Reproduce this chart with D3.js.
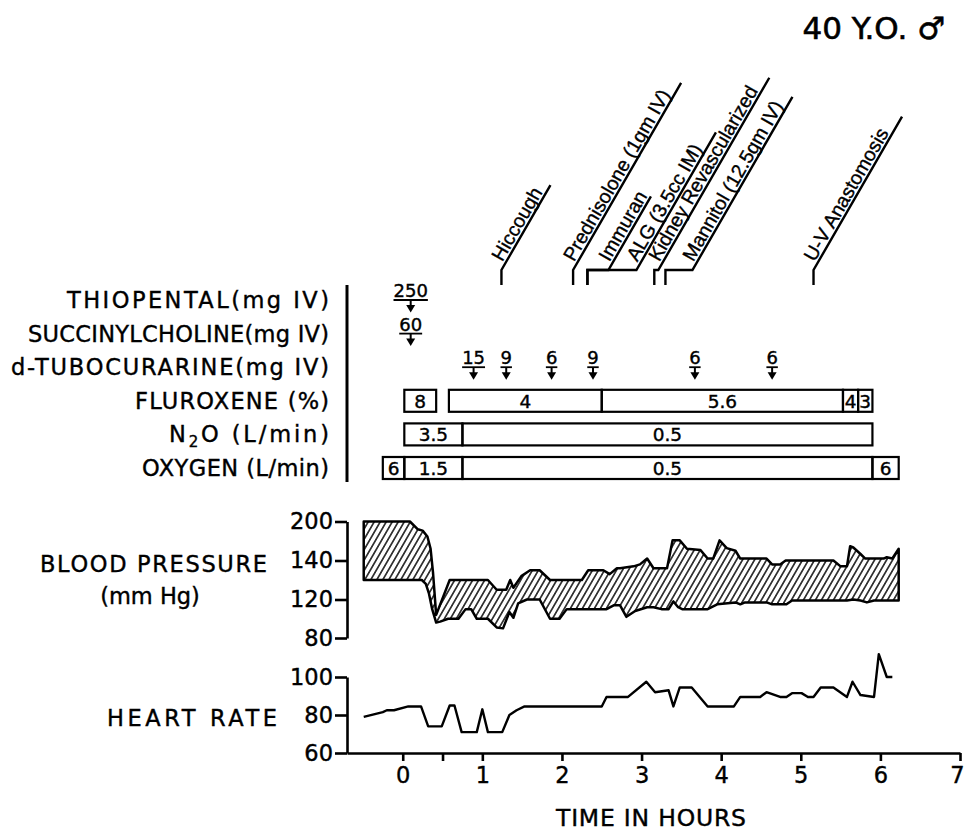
<!DOCTYPE html>
<html>
<head>
<meta charset="utf-8">
<script src="https://cdn.jsdelivr.net/npm/d3@7"></script>
<style>
  body { margin: 0; background: #fff; }
  svg text { font-family: "DejaVu Sans", sans-serif; fill: #000; stroke: #000; stroke-width: 0.4px; }
  .ann text { font-family: "Liberation Sans", Arial, sans-serif; stroke-width: 0.35px; }
</style>
</head>
<body>
<div id="chart"></div>
<script>
// ---------- data ----------
let hourTicks = [0, 0.5, 1, 2, 3, 4, 5, 6, 7];
let bpTicks = [200, 140, 120, 80];
let hrTicks = [100, 80, 60];

let rowNames = ["thiopental", "succinylcholine", "tubocurarine", "fluroxene", "n2o", "oxygen"];
let rowLabels = ["THIOPENTAL(mg IV)", "SUCCINYLCHOLINE(mg IV)", "d-TUBOCURARINE(mg IV)",
                 "FLUROXENE (%)", "N2O (L/min)", "OXYGEN (L/min)"];

// timed events (hours)
let events = [
  {name: "Hiccough", t: 1.24},
  {name: "Prednisolone (1gm IV)", t: 2.14},
  {name: "Immuran", t: 2.32},
  {name: "ALG (3.5cc IM)", t: 2.32},
  {name: "Kidney Revascularized", t: 3.16},
  {name: "Mannitol (12.5gm IV)", t: 3.30},
  {name: "U-V Anastomosis", t: 5.16}
];

// bolus doses
let thiopental = [{t: 0.1, dose: "250"}];
let succinylcholine = [{t: 0.1, dose: "60"}];
let tubocurarine = [{t: 0.89, dose: "15"}, {t: 1.30, dose: "9"}, {t: 1.87, dose: "6"},
                    {t: 2.39, dose: "9"}, {t: 3.67, dose: "6"}, {t: 4.64, dose: "6"}];

// continuous settings
let fluroxene = [{start: 0.02, end: 0.42, v: "8"}, {start: 0.58, end: 2.50, v: "4"},
                 {start: 2.50, end: 5.53, v: "5.6"}, {start: 5.53, end: 5.72, v: "4"},
                 {start: 5.72, end: 5.90, v: "3"}];
let n2o = [{start: 0.02, end: 0.75, v: "3.5"}, {start: 0.75, end: 5.90, v: "0.5"}];
let oxygen = [{start: -0.25, end: 0.02, v: "6"}, {start: 0.02, end: 0.75, v: "1.5"},
              {start: 0.75, end: 5.90, v: "0.5"}, {start: 5.90, end: 6.23, v: "6"}];

// blood pressure [hours, mm Hg]
let bpSystolic = [[-0.49,200],[0.09,200],[0.19,188],[0.25,186],[0.31,177],[0.35,158],[0.38,134],
  [0.42,104],[0.59,130],[1.07,130],[1.18,125],[1.30,125],[1.35,130],[1.39,126],[1.49,132],
  [1.60,135],[1.72,135],[1.85,130],[2.25,130],[2.33,135],[2.52,135],[2.60,133],[2.69,136],
  [2.73,136],[2.90,137],[2.98,138],[3.07,143],[3.15,136],[3.32,136],[3.39,171],[3.48,171],
  [3.57,158],[3.74,156],[3.83,143],[3.90,143],[3.98,171],[4.07,159],[4.18,155],[4.24,143],
  [4.57,143],[4.64,138],[4.74,138],[4.81,140],[5.41,140],[5.50,137],[5.58,137],[5.62,162],
  [5.66,160],[5.75,150],[5.81,143],[6.04,143],[6.08,145],[6.15,143],[6.23,158]];
let bpDiastolic = [[-0.49,130],[0.24,130],[0.29,128],[0.33,123],[0.37,110],[0.42,96],[0.47,97],
  [0.57,100],[0.70,100],[0.79,110],[0.86,110],[0.93,100],[1.07,100],[1.18,91],[1.26,90],
  [1.34,107],[1.39,101],[1.45,116],[1.56,120],[1.72,120],[1.85,100],[1.97,100],[2.06,110],
  [2.56,110],[2.65,114],[2.73,114],[2.81,102],[2.92,108],[3.07,112],[3.15,112],[3.25,110],
  [3.34,110],[3.40,118],[3.46,112],[3.51,110],[3.83,110],[3.95,115],[4.18,117],[4.24,115],
  [4.30,117],[4.57,117],[4.64,115],[4.82,115],[4.89,119],[5.58,119],[5.66,120],[5.75,119],
  [5.83,117],[5.92,119],[6.23,119]];

// heart rate [hours, beats/min]
let heartRate = [[-0.49,79],[-0.25,81.5],[-0.2,82.5],[-0.11,82.5],[0.07,84.5],[0.23,84.5],
  [0.32,74],[0.49,74],[0.59,85],[0.65,85],[0.74,71],[0.93,71],[1.0,83],[1.07,71],[1.25,71],
  [1.34,80],[1.43,82.5],[1.53,84.5],[2.5,84.5],[2.56,89.5],[2.83,89.5],[3.06,97.5],[3.17,92],
  [3.34,93],[3.40,84.5],[3.48,94.5],[3.63,94.5],[3.83,84.5],[4.16,84.5],[4.24,89.5],[4.49,89.5],
  [4.57,92],[4.74,89.5],[4.82,89.5],[4.89,91.5],[5.01,91.5],[5.09,89.5],[5.16,89.5],[5.25,94.5],
  [5.41,94.5],[5.58,89.5],[5.65,97.5],[5.75,90.5],[5.92,89.5],[5.98,112],[6.08,100],[6.15,100]];

// ---------- layout ----------
const W = 965, H = 833;
const svg = d3.select("#chart").append("svg").attr("width", W).attr("height", H);

const x = d3.scaleLinear().domain([-0.7, 7]).range([347, 960]);
const yBP = d3.scaleLinear().domain([80, 120, 140, 200]).range([638, 599.5, 560.5, 521.5]);
const yHR = d3.scaleLinear().domain([60, 100]).range([753, 677]);
const yRow = d3.scalePoint().domain(rowNames).range([300, 468]);

// hatch for the BP band
svg.append("defs").append("pattern")
    .attr("id", "hatch").attr("patternUnits", "userSpaceOnUse")
    .attr("width", 5.2).attr("height", 10).attr("patternTransform", "rotate(30)")
  .append("line").attr("x1", 2.6).attr("x2", 2.6).attr("y1", 0).attr("y2", 10)
    .attr("stroke", "#000").attr("stroke-width", 1.4);

// title
svg.append("text").attr("x", 945).attr("y", 39).attr("text-anchor", "end")
  .style("font-size", "31px").style("stroke-width", "0.6px").text("40 Y.O. \u2642");

// ---- event annotations ----
// jog: horizontal step before the slanted leader, len: length of slanted leader
const annLayout = [{jog: 0, len: 98}, {jog: 0, len: 216}, {jog: 21, len: 85}, {jog: 49, len: 159},
                   {jog: 4, len: 222}, {jog: 27, len: 200}, {jog: 0, len: 177}];
const ang = 60 * Math.PI / 180;
const ann = svg.append("g").attr("class", "ann");
events.forEach((e, i) => {
  const L = annLayout[i];
  const x0 = x(e.t), yb = 285, yt = 270;
  const x1 = x0 + L.jog;
  const x2 = x1 + L.len * Math.cos(ang), y2 = yt - L.len * Math.sin(ang);
  ann.append("path")
    .attr("d", `M${x0},${yb}V${yt}H${x1}L${x2},${y2}`)
    .attr("fill", "none").attr("stroke", "#000").attr("stroke-width", 2.4);
  ann.append("text")
    .attr("transform", `translate(${x1},${yt}) rotate(-60)`)
    .attr("x", 7).attr("y", -3)
    .style("font-size", "19.5px")
    .text(e.name);
});

// ---- drug rows ----
svg.append("line").attr("x1", 347).attr("x2", 347).attr("y1", 285).attr("y2", 482)
  .attr("stroke", "#000").attr("stroke-width", 3);

const labWidths = [262, 301, 318, 194, 160, 187];
const labG = svg.append("g").style("font-size", "22.5px");
rowNames.forEach((r, i) => {
  const t = labG.append("text").attr("x", 329).attr("y", yRow(r) + 8).attr("text-anchor", "end")
    .attr("textLength", labWidths[i]).attr("lengthAdjust", "spacing");
  if (r === "n2o") {
    t.append("tspan").text("N");
    t.append("tspan").attr("dy", 5).style("font-size", "15px").text("2");
    t.append("tspan").attr("dy", -5).text("O (L/min)");
  } else {
    t.text(rowLabels[i]);
  }
});

function bolus(row, arr) {
  const y0 = yRow(row);
  const g = svg.append("g").selectAll("g").data(arr).join("g")
    .attr("transform", d => `translate(${x(d.t)},${y0})`);
  g.append("text").attr("text-anchor", "middle").attr("y", -3)
    .style("font-size", "18px").text(d => d.dose);
  g.each(function () {
    const w = d3.select(this).select("text").node().getComputedTextLength();
    d3.select(this).append("line").attr("x1", -w / 2).attr("x2", w / 2).attr("y1", 0).attr("y2", 0)
      .attr("stroke", "#000").attr("stroke-width", 1.8);
  });
  g.append("line").attr("x1", 0).attr("x2", 0).attr("y1", 0).attr("y2", 7)
    .attr("stroke", "#000").attr("stroke-width", 2);
  g.append("path").attr("d", "M-4.5,5L4.5,5L0,12.5Z").attr("fill", "#000");
}
bolus("thiopental", thiopental);
bolus("succinylcholine", succinylcholine);
bolus("tubocurarine", tubocurarine);

function boxes(row, arr) {
  const y0 = yRow(row);
  const g = svg.append("g").selectAll("g").data(arr).join("g");
  g.append("rect")
    .attr("x", d => x(d.start)).attr("y", y0 - 11)
    .attr("width", d => x(d.end) - x(d.start)).attr("height", 22)
    .attr("fill", "none").attr("stroke", "#000").attr("stroke-width", 2.2);
  g.append("text")
    .attr("x", d => (x(d.start) + x(d.end)) / 2).attr("y", y0 + 7)
    .attr("text-anchor", "middle").style("font-size", "18.5px").text(d => d.v);
}
boxes("fluroxene", fluroxene);
boxes("n2o", n2o);
boxes("oxygen", oxygen);

// ---- side labels ----
const bigLab = svg.append("g").style("font-size", "22.5px");
bigLab.append("text").attr("x", 267).attr("y", 572).attr("text-anchor", "end")
  .attr("textLength", 227).attr("lengthAdjust", "spacing").text("BLOOD PRESSURE");
bigLab.append("text").attr("x", 150).attr("y", 604).attr("text-anchor", "middle").text("(mm Hg)");
bigLab.append("text").attr("x", 277).attr("y", 726).attr("text-anchor", "end")
  .attr("textLength", 170).attr("lengthAdjust", "spacing").text("HEART RATE");

function styleAxis(g) {
  g.selectAll("path, line").attr("stroke", "#000").attr("stroke-width", 2.6);
  g.selectAll("text").style("font-size", "22.5px").attr("fill", "#000")
    .style("font-family", "'DejaVu Sans', sans-serif");
}

// ---- blood pressure ----
svg.append("g").attr("transform", "translate(347,0)")
  .call(d3.axisLeft(yBP).tickValues(bpTicks).tickSize(12).tickSizeOuter(0).tickPadding(2))
  .call(styleAxis);

const bpPoly = bpSystolic.concat(bpDiastolic.slice().reverse());
svg.append("path")
  .attr("d", d3.line().x(d => x(d[0])).y(d => yBP(d[1]))(bpPoly) + "Z")
  .attr("fill", "url(#hatch)").attr("stroke", "#000").attr("stroke-width", 2.5)
  .attr("stroke-linejoin", "round");

// ---- heart rate ----
svg.append("g").attr("transform", "translate(347,0)")
  .call(d3.axisLeft(yHR).tickValues(hrTicks).tickSize(12).tickSizeOuter(0).tickPadding(2))
  .call(styleAxis);

svg.append("path")
  .attr("d", d3.line().x(d => x(d[0])).y(d => yHR(d[1]))(heartRate))
  .attr("fill", "none").attr("stroke", "#000").attr("stroke-width", 2.4)
  .attr("stroke-linejoin", "round");

// ---- time axis ----
const xAxisG = svg.append("g").attr("transform", "translate(0,753)")
  .call(d3.axisBottom(x).tickValues(hourTicks).tickSize(8).tickSizeOuter(0).tickPadding(6)
    .tickFormat(d => Number.isInteger(d) ? d : ""))
  .call(styleAxis);
// keep the last label inside the frame
xAxisG.selectAll(".tick text").filter(d => d === 7).attr("x", -3);

svg.append("text").attr("x", 651).attr("y", 826).attr("text-anchor", "middle")
  .style("font-size", "23.5px").attr("textLength", 190).attr("lengthAdjust", "spacing")
  .text("TIME IN HOURS");
</script>
</body>
</html>
